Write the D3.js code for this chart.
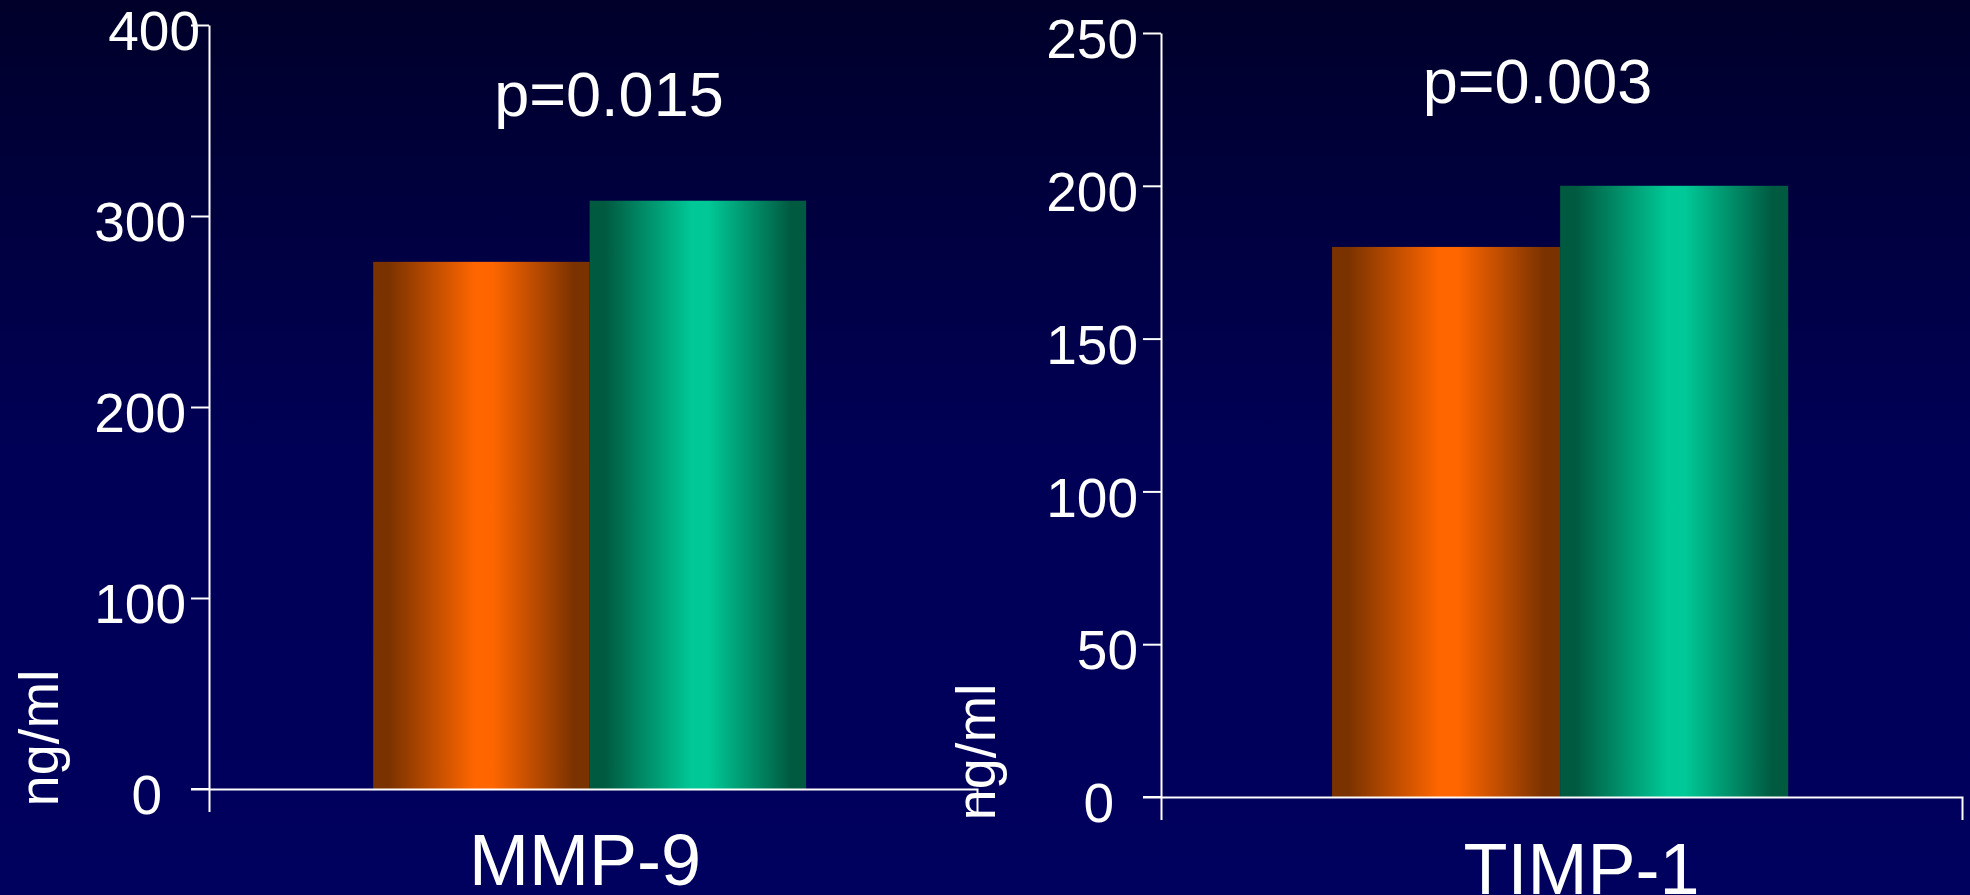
<!DOCTYPE html>
<html>
<head>
<meta charset="utf-8">
<script src="https://cdn.jsdelivr.net/npm/d3@7"></script>
<style>
  html, body { margin: 0; padding: 0; background: #000050; }
  svg { display: block; }
  text { font-family: "Liberation Sans", Arial, sans-serif; fill: #ffffff; }
</style>
</head>
<body>
<svg id="chart" width="1970" height="895"></svg>
<script>
// Serum levels in two groups (orange = first group, green = second group)
const groups = ["group1", "group2"];
const groupColors = { group1: ["#7a3200", "#ff6600"], group2: ["#005a40", "#00c896"] };

const mmpCategory = ["MMP-9"];
const mmpValues = [276, 308];
const mmpTicks = [0, 100, 200, 300, 400];
const mmpP = "p=0.015";

const timpCategory = ["TIMP-1"];
const timpValues = [180, 200];
const timpTicks = [0, 50, 100, 150, 200, 250];
const timpP = "p=0.003";

const unitLabel = "ng/ml";

const svg = d3.select("#chart");
const W = 1970, H = 895;

// Background: dark at top fading to navy
const defs = svg.append("defs");
const bg = defs.append("linearGradient").attr("id", "bg")
  .attr("x1", 0).attr("y1", 0).attr("x2", 0).attr("y2", 1);
bg.append("stop").attr("offset", "0%").attr("stop-color", "#00002a");
bg.append("stop").attr("offset", "50%").attr("stop-color", "#000056");
bg.append("stop").attr("offset", "100%").attr("stop-color", "#00005e");
svg.append("rect").attr("width", W).attr("height", H).attr("fill", "url(#bg)");

// Cylinder-like horizontal shading for each series
groups.forEach(g => {
  const [dark, light] = groupColors[g];
  const lg = defs.append("linearGradient").attr("id", "grad-" + g)
    .attr("x1", 0).attr("y1", 0).attr("x2", 1).attr("y2", 0);
  [[0, dark], [0.07, dark], [0.47, light], [0.55, light], [0.93, dark], [1, dark]]
    .forEach(([o, c]) => lg.append("stop").attr("offset", o).attr("stop-color", c));
});

function drawPanel(cfg) {
  const g = svg.append("g");
  const y = d3.scaleLinear().domain(cfg.domain).range([cfg.y0, cfg.y1]);
  const x = d3.scaleBand().domain(cfg.category).range([cfg.xa, cfg.xb])
    .paddingInner(0).paddingOuter(cfg.pad).align(cfg.align);
  const xs = d3.scaleBand().domain(groups).range([0, x.bandwidth()]);

  // Bars
  g.selectAll("rect.bar").data(cfg.values.map((v, i) => ({ k: groups[i], v })))
    .join("rect").attr("class", "bar")
    .attr("x", d => x(cfg.category[0]) + xs(d.k))
    .attr("width", xs.bandwidth())
    .attr("y", d => y(d.v))
    .attr("height", d => y(0) - y(d.v))
    .attr("fill", d => "url(#grad-" + d.k + ")");

  // Y axis
  const ya = g.append("g").attr("transform", `translate(${cfg.xa},0)`)
    .call(d3.axisLeft(y).tickValues(cfg.ticks).tickSize(18).tickSizeOuter(0).tickPadding(5));
  ya.selectAll("path, line").attr("stroke", "#ffffff").attr("stroke-width", 2);
  ya.selectAll("text").attr("font-size", 55).attr("dy", "0.45em").attr("fill", "#ffffff")
    .attr("dx", d => (d === 0 ? -24 : (cfg.topShift && d === cfg.domain[1] ? cfg.topShift : 0)));

  // X axis: baseline with end ticks
  const xa = g.append("g").attr("transform", `translate(0,${y(0)})`)
    .call(d3.axisBottom(x).tickValues([]).tickSizeOuter(23));
  xa.selectAll("path").attr("stroke", "#ffffff").attr("stroke-width", 2).attr("fill", "none");
  // zero line continues left over the zero tick
  g.append("line").attr("x1", cfg.xa - 18).attr("x2", cfg.xa).attr("y1", y(0)).attr("y2", y(0))
    .attr("stroke", "#ffffff").attr("stroke-width", 2);

  // Category label
  g.append("text").attr("x", (cfg.xa + cfg.xb) / 2 + cfg.catDx).attr("y", cfg.catY)
    .attr("text-anchor", "middle").attr("font-size", 72).text(cfg.category[0]);

  // p-value
  g.append("text").attr("x", (cfg.xa + cfg.xb) / 2 + cfg.pDx).attr("y", cfg.pY)
    .attr("text-anchor", "middle").attr("font-size", 63).text(cfg.p);

  // Unit label
  g.append("text").attr("transform", `translate(${cfg.unitX},${cfg.unitY}) rotate(-90)`)
    .attr("text-anchor", "middle").attr("font-size", 56).text(unitLabel);
}

drawPanel({
  category: mmpCategory, values: mmpValues, ticks: mmpTicks, p: mmpP,
  domain: [0, 400], y0: 789, y1: 25, xa: 209, xb: 977, pad: 0.387, align: 0.49,
  topShift: 14, catDx: -8, catY: 885, pDx: 16, pY: 116, unitX: 58, unitY: 738
});

drawPanel({
  category: timpCategory, values: timpValues, ticks: timpTicks, p: timpP,
  domain: [0, 250], y0: 797, y1: 33, xa: 1161, xb: 1962, pad: 0.378, align: 0.496,
  topShift: 0, catDx: 20, catY: 894, pDx: -24, pY: 103, unitX: 995, unitY: 752
});
</script>
</body>
</html>
